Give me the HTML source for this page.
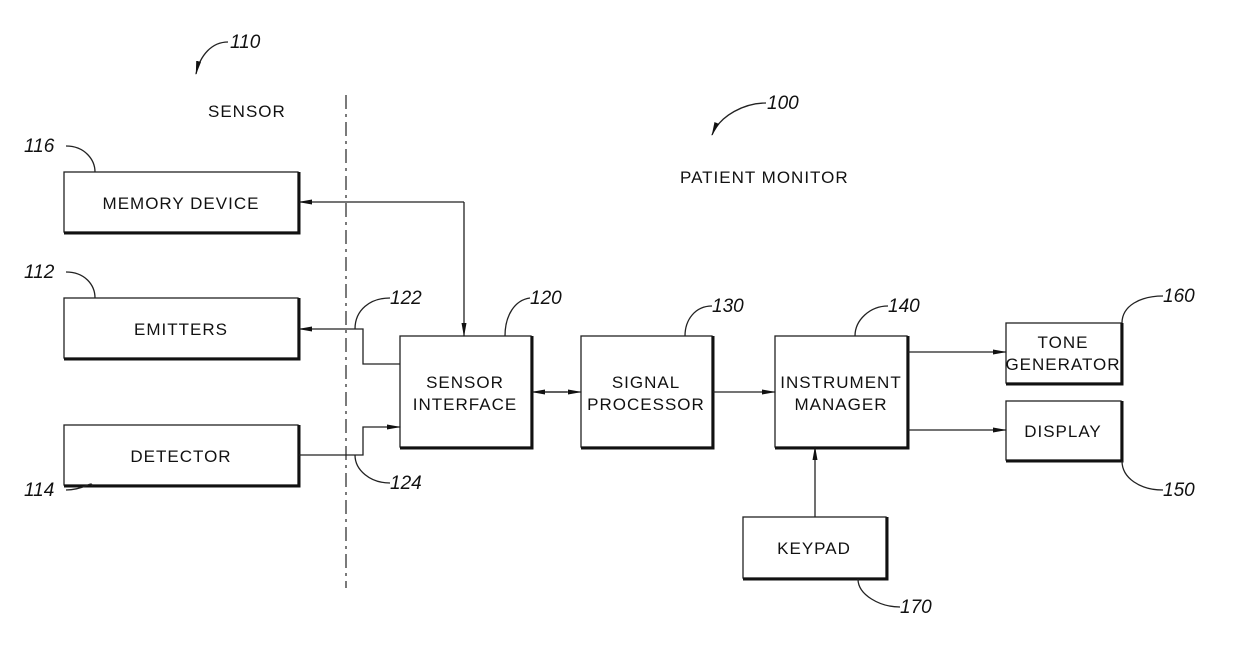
<!DOCTYPE html>
<html><head><style>body{margin:0;background:#fff}svg{display:block}
text{font-family:"Liberation Sans",sans-serif;font-size:17px;fill:#111;letter-spacing:1px}
.n{font-style:italic;font-size:19px;letter-spacing:0}
</style></head><body>
<svg width="1239" height="660" viewBox="0 0 1239 660" xmlns="http://www.w3.org/2000/svg">
<defs><marker id="a" markerWidth="14" markerHeight="8" refX="13" refY="4" orient="auto" markerUnits="userSpaceOnUse"><path d="M0,1.5 L14,4 L0,6.5z" fill="#111"/></marker></defs>
<g fill="#fff" stroke="#222" stroke-width="1.3">
<rect x="64" y="172" width="234" height="60"/><rect x="64" y="298" width="234" height="60"/><rect x="64" y="425" width="234" height="60"/>
<rect x="400" y="336" width="131" height="111"/><rect x="581" y="336" width="131" height="111"/><rect x="775" y="336" width="132" height="111"/>
<rect x="1006" y="323" width="115" height="60"/><rect x="1006" y="401" width="115" height="59"/><rect x="743" y="517" width="143" height="61"/>
</g>
<g stroke="#111" stroke-width="3" fill="none">
<path d="M299,172V233H64"/><path d="M299,298V359H64"/><path d="M299,425V486H64"/>
<path d="M532,336V448H400"/><path d="M713,336V448H581"/><path d="M908,336V448H775"/>
<path d="M1122,323V384H1006"/><path d="M1122,401V461H1006"/><path d="M887,517V579H743"/>
</g>
<line x1="346" y1="95" x2="346" y2="588" stroke="#222" stroke-width="1.2" stroke-dasharray="14,5,3,5"/>
<g stroke="#222" stroke-width="1.3" fill="none">
<path d="M464,202H299" marker-end="url(#a)"/><path d="M464,202V336" marker-end="url(#a)"/>
<path d="M400,364H363V329H299" marker-end="url(#a)"/>
<path d="M299,455H363V427H400" marker-end="url(#a)"/>
<path d="M545,392H567"/><path d="M556,392H581" marker-end="url(#a)"/><path d="M556,392H532" marker-end="url(#a)"/>
<path d="M713,392H775" marker-end="url(#a)"/>
<path d="M908,352H1006" marker-end="url(#a)"/><path d="M908,430H1006" marker-end="url(#a)"/>
<path d="M815,517V447" marker-end="url(#a)"/>
<path d="M228,42C212,42 200,55 196,74" marker-end="url(#a)"/>
<path d="M766,103C745,103 720,115 712,135" marker-end="url(#a)"/>
<path d="M66,146C85,146 95,160 95,172"/>
<path d="M66,272C85,272 95,285 95,298"/>
<path d="M66,490C85,490 92,480 92,486"/>
<path d="M390,298C370,298 355,310 355,329"/>
<path d="M390,483C370,483 355,470 355,455"/>
<path d="M530,298C515,300 505,315 505,336"/>
<path d="M712,306C695,306 685,320 685,336"/>
<path d="M888,306C870,306 855,320 855,336"/>
<path d="M1163,296C1140,296 1122,306 1122,323"/>
<path d="M1163,490C1140,490 1122,478 1122,461"/>
<path d="M900,607C880,607 858,595 858,579"/>
</g>
<text class="n" x="230" y="48">110</text>
<text x="208" y="117">SENSOR</text>
<text class="n" x="767" y="109">100</text>
<text x="680" y="183">PATIENT MONITOR</text>
<text class="n" x="24" y="152">116</text><text class="n" x="24" y="278">112</text><text class="n" x="24" y="496">114</text>
<text class="n" x="390" y="304">122</text><text class="n" x="390" y="489">124</text>
<text class="n" x="530" y="304">120</text><text class="n" x="712" y="312">130</text><text class="n" x="888" y="312">140</text>
<text class="n" x="1163" y="302">160</text><text class="n" x="1163" y="496">150</text><text class="n" x="900" y="613">170</text>
<g text-anchor="middle">
<text x="181" y="209">MEMORY  DEVICE</text><text x="181" y="335">EMITTERS</text><text x="181" y="462">DETECTOR</text>
<text x="465" y="388">SENSOR</text><text x="465" y="410">INTERFACE</text>
<text x="646" y="388">SIGNAL</text><text x="646" y="410">PROCESSOR</text>
<text x="841" y="388">INSTRUMENT</text><text x="841" y="410">MANAGER</text>
<text x="1063" y="348">TONE</text><text x="1063" y="370">GENERATOR</text>
<text x="1063" y="437">DISPLAY</text><text x="814" y="554">KEYPAD</text>
</g>
</svg></body></html>
